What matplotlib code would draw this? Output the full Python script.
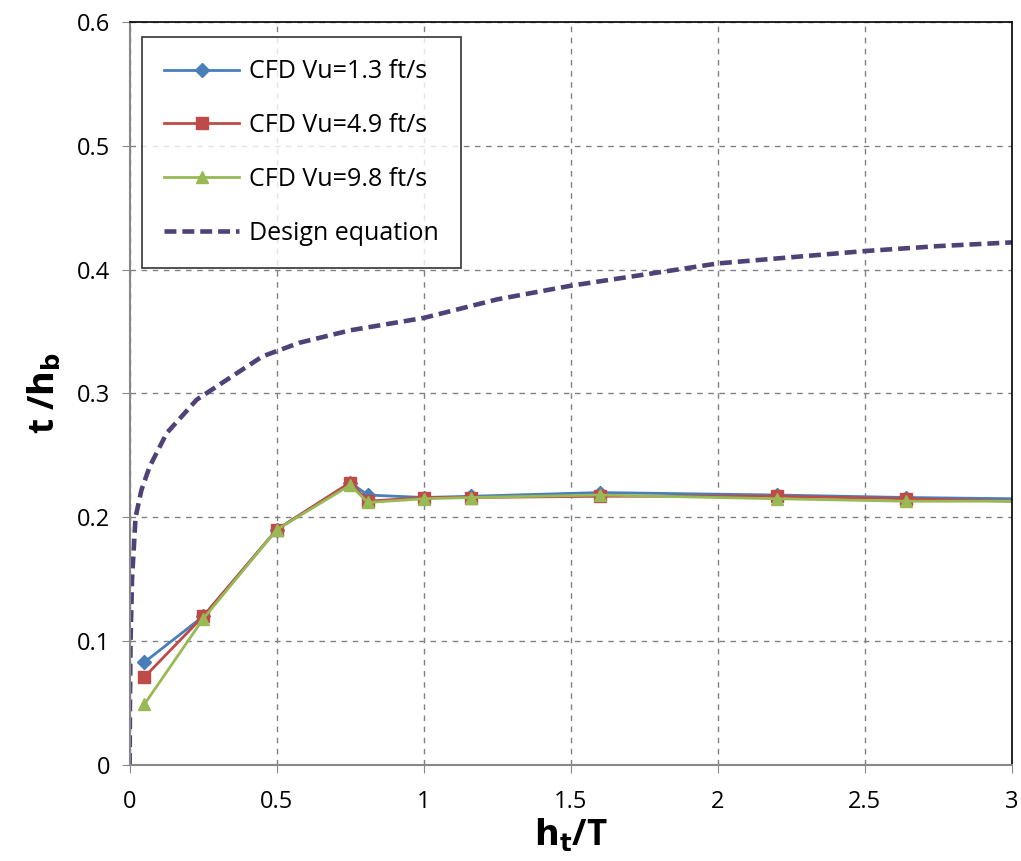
import numpy as np
import matplotlib
matplotlib.use("Agg")
import matplotlib.pyplot as plt

# CFD results, scour depth ratio vs tailwater ratio
ht_T = [0.05, 0.25, 0.5, 0.75, 0.81, 1.0, 1.16, 1.6, 2.2, 2.64, 3.0]
vu_13 = [0.083, 0.120, 0.190, 0.228, 0.218, 0.216, 0.217, 0.220, 0.218, 0.216, 0.215]
vu_49 = [0.071, 0.120, 0.190, 0.228, 0.213, 0.216, 0.216, 0.217, 0.217, 0.215, 0.213]
vu_98 = [0.049, 0.118, 0.190, 0.226, 0.212, 0.215, 0.216, 0.218, 0.215, 0.213, 0.213]

# design equation curve
eq_x = [0.0, 0.001, 0.003, 0.008, 0.02, 0.04, 0.068, 0.126, 0.228, 0.33, 0.452,
        0.578, 0.75, 1.0, 1.25, 1.5, 1.75, 2.0, 2.25, 2.5, 2.75, 3.0]
eq_y = [0.0, 0.05, 0.1, 0.15, 0.2, 0.222, 0.241, 0.268, 0.295, 0.311, 0.33,
        0.341, 0.351, 0.361, 0.376, 0.387, 0.396, 0.405, 0.410, 0.415, 0.419, 0.422]

plt.rcParams['font.family'] = ['Open Sans', 'DejaVu Sans']

fig = plt.figure(figsize=(10.21, 8.61), dpi=100)
ax = fig.add_axes([0.127, 0.1115, 0.864, 0.863])

# no marker on the last point (sits on the right border)
mk = slice(0, len(ht_T) - 1)
ax.plot(ht_T, vu_13, color='#4A7EBB', lw=2, marker='D', ms=7, markevery=mk, label='CFD Vu=1.3 ft/s')
ax.plot(ht_T, vu_49, color='#BE4B48', lw=2, marker='s', ms=9, markevery=mk, label='CFD Vu=4.9 ft/s')
ax.plot(ht_T, vu_98, color='#98B954', lw=2, marker='^', ms=9, markevery=mk, label='CFD Vu=9.8 ft/s')
ax.plot(eq_x, eq_y, color='#4F4277', lw=3.3, ls=(0, (2.6, 1.3)), label='Design equation')

ax.set_xlim(0, 3)
ax.set_ylim(0, 0.6)
ax.set_xticks(np.arange(0, 3.01, 0.5))
ax.set_xticklabels(['0', '0.5', '1', '1.5', '2', '2.5', '3'])
ax.set_yticks(np.arange(0, 0.61, 0.1))
ax.set_yticklabels(['0', '0.1', '0.2', '0.3', '0.4', '0.5', '0.6'])
ax.tick_params(labelsize=17, length=6, color='#888888', direction='out')
ax.tick_params(axis='x', pad=12)
ax.tick_params(axis='y', pad=8)

ax.grid(True, color='#808080', ls=(0, (4, 4)), lw=1)
for s in ['left', 'bottom']:
    ax.spines[s].set_color('#888888')
    ax.spines[s].set_linewidth(1.5)
for s in ['top', 'right']:
    ax.spines[s].set_color('black')
    ax.spines[s].set_linewidth(1.2)

ax.set_xlabel('$\\mathbf{h_t}$/T', fontsize=25, fontweight='bold', labelpad=2)
ax.set_ylabel('t /$\\mathbf{h_b}$', fontsize=25, fontweight='bold', labelpad=10)

leg = ax.legend(loc='upper left', bbox_to_anchor=(0.0136, 0.98), borderaxespad=0,
                fontsize=18, frameon=True, fancybox=False, edgecolor='black',
                handlelength=3.0, handletextpad=0.4, labelspacing=1.15, borderpad=0.9)
leg.get_frame().set_linewidth(1.2)

fig.savefig('out.png', dpi=100)
